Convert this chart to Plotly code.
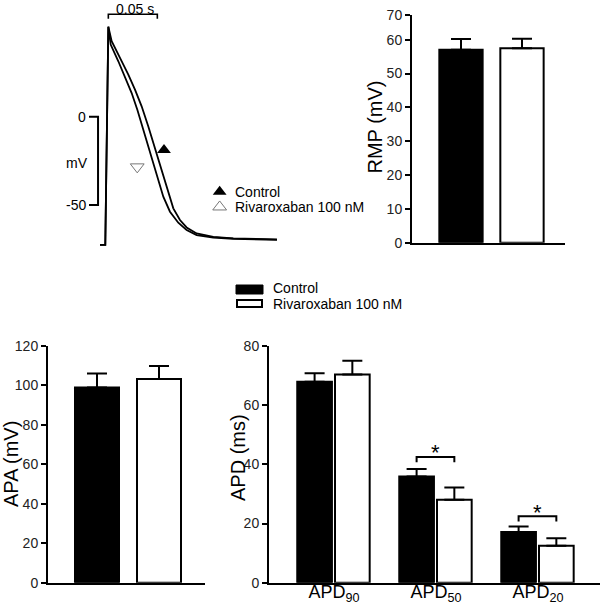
import plotly.graph_objects as go

# ---------------- data ----------------
# Panel A: action potential traces (time in ms, membrane potential in mV)
ctrl_t = [-5.1, 0.3, 3.4, 6.8, 15.3, 23.8, 30.6, 37.4, 44.2, 51.0, 57.8, 64.6, 69.7, 76.5, 83.3, 93.5, 110.5, 130.9, 175.5]
ctrl_v = [-72.6, -72.6, 51.0, 42.8, 33.3, 23.9, 15.3, 5.9, -5.5, -17.8, -30.1, -43.4, -51.9, -58.5, -62.7, -66.1, -68.0, -68.9, -69.5]
riva_t = [-5.1, 0.3, 3.4, 5.8, 13.6, 20.4, 27.2, 33.0, 39.1, 45.9, 52.7, 59.5, 66.3, 74.8, 83.3, 93.5, 110.5, 130.9, 175.5]
riva_v = [-72.6, -72.6, 51.0, 40.9, 31.4, 22.9, 13.4, 4.0, -7.4, -19.7, -33.0, -45.3, -53.8, -60.0, -64.2, -67.0, -68.4, -69.1, -69.7]
time_bar_ms = 50      # "0.05 s" scale bar
volt_bar_mv = 50      # 0 to -50 mV scale bar

groups = ["Control", "Rivaroxaban 100 nM"]

# Panel B: resting membrane potential
rmp_mean = [57.0, 57.5]
rmp_sem = [3.2, 2.8]
rmp_tickvals = [0, 10, 20, 30, 40, 50, 60, 67.3]
rmp_ticktext = ["0", "10", "20", "30", "40", "50", "60", "70"]

# Panel C: action potential amplitude
apa_mean = [98.9, 103.3]
apa_sem = [7.1, 6.6]

# Panel D: action potential durations
apd_labels = ["APD<sub>90</sub>", "APD<sub>50</sub>", "APD<sub>20</sub>"]
apd_ctrl = [67.9, 35.9, 17.1]
apd_ctrl_sem = [2.9, 2.5, 1.9]
apd_riva = [70.4, 28.0, 12.5]
apd_riva_sem = [4.6, 4.2, 2.5]
sig_index = [1, 2]          # APD50, APD20 marked with *
sig_height = [42.5, 22.5]

# ---------------- styling ----------------
FONT = "Arial, Liberation Sans, sans-serif"
W, H = 600, 608
def px(x):
    return x / W
def py(y):
    return 1 - y / H

fig = go.Figure()

# ---- Panel A ----
for t, v in [(ctrl_t, ctrl_v), (riva_t, riva_v)]:
    fig.add_trace(go.Scatter(x=t, y=v, mode="lines", line=dict(color="black", width=1.8),
                             xaxis="x", yaxis="y", showlegend=False, hoverinfo="skip"))
# scale bars
fig.add_trace(go.Scatter(x=[-16.3, -7.1, -7.1, -16.3], y=[0, 0, -volt_bar_mv, -volt_bar_mv],
                         mode="lines", line=dict(color="black", width=2),
                         xaxis="x", yaxis="y", showlegend=False, hoverinfo="skip"))
fig.add_trace(go.Scatter(x=[3.4, 3.4, 3.4 + time_bar_ms, 3.4 + time_bar_ms], y=[55.5, 58.0, 58.0, 55.5],
                         mode="lines", line=dict(color="black", width=1.6),
                         xaxis="x", yaxis="y", showlegend=False, hoverinfo="skip"))
# curve markers
fig.add_trace(go.Scatter(x=[60.2], y=[-18.9], mode="markers",
                         marker=dict(symbol="triangle-up", size=12, color="black"),
                         xaxis="x", yaxis="y", showlegend=False, hoverinfo="skip"))
fig.add_trace(go.Scatter(x=[32.9], y=[-28.4], mode="markers",
                         marker=dict(symbol="triangle-down-open", size=12, color="#777777", line=dict(width=1)),
                         xaxis="x", yaxis="y", showlegend=False, hoverinfo="skip"))
# panel A legend markers
fig.add_trace(go.Scatter(x=[117.0], y=[-42.5], mode="markers",
                         marker=dict(symbol="triangle-up", size=12, color="black"),
                         xaxis="x", yaxis="y", showlegend=False, hoverinfo="skip"))
fig.add_trace(go.Scatter(x=[117.0], y=[-51.1], mode="markers",
                         marker=dict(symbol="triangle-up-open", size=12, color="#777777", line=dict(width=1)),
                         xaxis="x", yaxis="y", showlegend=False, hoverinfo="skip"))

# ---- Panel B & C bars ----
fills = ["black", "white"]
for (xa, ya, means, sems) in [("x2", "y2", rmp_mean, rmp_sem), ("x3", "y3", apa_mean, apa_sem)]:
    for g, m, s, c in zip(groups, means, sems, fills):
        fig.add_trace(go.Bar(x=[g], y=[m], width=0.71, xaxis=xa, yaxis=ya,
                             marker=dict(color=c, line=dict(color="black", width=2)),
                             error_y=dict(type="data", symmetric=False, array=[s], arrayminus=[0],
                                          color="black", thickness=2, width=10),
                             showlegend=False, hoverinfo="skip"))

# ---- Panel D bars ----
xi = list(range(len(apd_labels)))
ctrl_off, riva_off, bw = -0.36, 0.01, 0.34
fig.add_trace(go.Bar(x=xi, y=apd_ctrl, width=bw, offset=ctrl_off, xaxis="x4", yaxis="y4",
                     marker=dict(color="black", line=dict(color="black", width=2)),
                     error_y=dict(type="data", symmetric=False, array=apd_ctrl_sem, arrayminus=[0] * 3,
                                  color="black", thickness=2, width=10),
                     showlegend=False, hoverinfo="skip"))
fig.add_trace(go.Bar(x=xi, y=apd_riva, width=bw, offset=riva_off, xaxis="x4", yaxis="y4",
                     marker=dict(color="white", line=dict(color="black", width=2)),
                     error_y=dict(type="data", symmetric=False, array=apd_riva_sem, arrayminus=[0] * 3,
                                  color="black", thickness=2, width=10),
                     showlegend=False, hoverinfo="skip"))
# significance brackets
bx, by = [], []
for i, h in zip(sig_index, sig_height):
    lc = i + ctrl_off + bw / 2
    rc = i + riva_off + bw / 2
    bx += [lc, lc, rc, rc, None]
    by += [h - 1.8, h, h, h - 1.8, None]
fig.add_trace(go.Scatter(x=bx, y=by, mode="lines", line=dict(color="black", width=2),
                         xaxis="x4", yaxis="y4", showlegend=False, hoverinfo="skip"))

annotations = []
for i, h in zip(sig_index, sig_height):
    mid = i + (ctrl_off + riva_off + bw) / 2
    annotations.append(dict(x=mid, y=h, xref="x4", yref="y4", text="*", showarrow=False,
                            xanchor="center", yanchor="middle", yshift=4,
                            font=dict(size=22, color="black", family=FONT)))

# panel A texts
annotations += [
    dict(x=-17.5, y=0, xref="x", yref="y", text="0", showarrow=False, xanchor="right", yanchor="middle",
         font=dict(size=14, color="black", family=FONT)),
    dict(x=-17.5, y=-volt_bar_mv, xref="x", yref="y", text="-50", showarrow=False, xanchor="right",
         yanchor="middle", font=dict(size=14, color="black", family=FONT)),
    dict(x=-28.1, y=-26.2, xref="x", yref="y", text="mV", showarrow=False, xanchor="center",
         yanchor="middle", font=dict(size=14, color="black", family=FONT)),
    dict(x=30.6, y=61.2, xref="x", yref="y", text="0.05 s", showarrow=False, xanchor="center",
         yanchor="middle", font=dict(size=14, color="black", family=FONT)),
    dict(x=130.9, y=-42.5, xref="x", yref="y", text="Control", showarrow=False, xanchor="left",
         yanchor="middle", font=dict(size=14, color="black", family=FONT)),
    dict(x=130.9, y=-51.1, xref="x", yref="y", text="Rivaroxaban 100 nM", showarrow=False, xanchor="left",
         yanchor="middle", font=dict(size=14, color="black", family=FONT)),
]
# axis titles
for txt, xx, yy in [("RMP (mV)", 374.5, 127), ("APA (mV)", 11, 464), ("APD (ms)", 238, 458)]:
    annotations.append(dict(x=px(xx), y=py(yy), xref="paper", yref="paper", text=txt, textangle=-90,
                            showarrow=False, xanchor="center", yanchor="middle",
                            font=dict(size=20, color="black", family=FONT)))
# middle legend
for txt, yy in [("Control", 288.5), ("Rivaroxaban 100 nM", 303.5)]:
    annotations.append(dict(x=px(271), y=py(yy), xref="paper", yref="paper", text=txt, showarrow=False,
                            xanchor="left", yanchor="middle", font=dict(size=14, color="black", family=FONT)))
shapes = [
    dict(type="rect", xref="paper", yref="paper", x0=px(236), x1=px(263), y0=py(294), y1=py(285),
         fillcolor="black", line=dict(color="black", width=1)),
    dict(type="rect", xref="paper", yref="paper", x0=px(237), x1=px(262), y0=py(307), y1=py(300),
         fillcolor="white", line=dict(color="black", width=2)),
]

yax_common = dict(showline=True, linewidth=2, linecolor="black", ticks="outside", ticklen=5,
                  tickwidth=2, tickcolor="black", showgrid=False, zeroline=False, automargin=False,
                  tickfont=dict(size=14, color="#222", family=FONT))
xax_common = dict(showline=True, linewidth=2, linecolor="black", ticks="", showgrid=False,
                  zeroline=False, automargin=False)

fig.update_layout(
    width=W, height=H, margin=dict(l=0, r=0, t=0, b=0, pad=0, autoexpand=False),
    paper_bgcolor="white", plot_bgcolor="white",
    barmode="overlay", showlegend=False,
    font=dict(family=FONT, color="black"),
    xaxis=dict(domain=[0, 0.6], range=[-107.14, 260.2], visible=False, automargin=False),
    yaxis=dict(domain=[py(265), 1], range=[-83.97, 66.1], visible=False, automargin=False),
    xaxis2=dict(domain=[px(412), px(565)], range=[-0.803, 1.705], type="category",
                showticklabels=False, anchor="y2", **xax_common),
    yaxis2=dict(domain=[py(242.7), py(15)], range=[0, 67.3], tickvals=rmp_tickvals,
                ticktext=rmp_ticktext, anchor="x2", **yax_common),
    xaxis3=dict(domain=[px(48), px(205)], range=[-0.79, 1.742], type="category",
                showticklabels=False, anchor="y3", **xax_common),
    yaxis3=dict(domain=[py(582.7), py(346)], range=[0, 120], dtick=20, anchor="x3", **yax_common),
    xaxis4=dict(domain=[px(269), 1], range=[-0.637, 2.608], tickvals=xi, ticktext=apd_labels,
                ticklabelstandoff=-8,
                tickfont=dict(size=18, color="black", family=FONT), anchor="y4", **xax_common),
    yaxis4=dict(domain=[py(582.7), py(346)], range=[0, 80], dtick=20, anchor="x4", **yax_common),
    annotations=annotations, shapes=shapes,
)

fig.write_html("out.html", config={"displayModeBar": False},
               post_script="document.body.style.margin='0px';document.body.style.padding='0px';")
